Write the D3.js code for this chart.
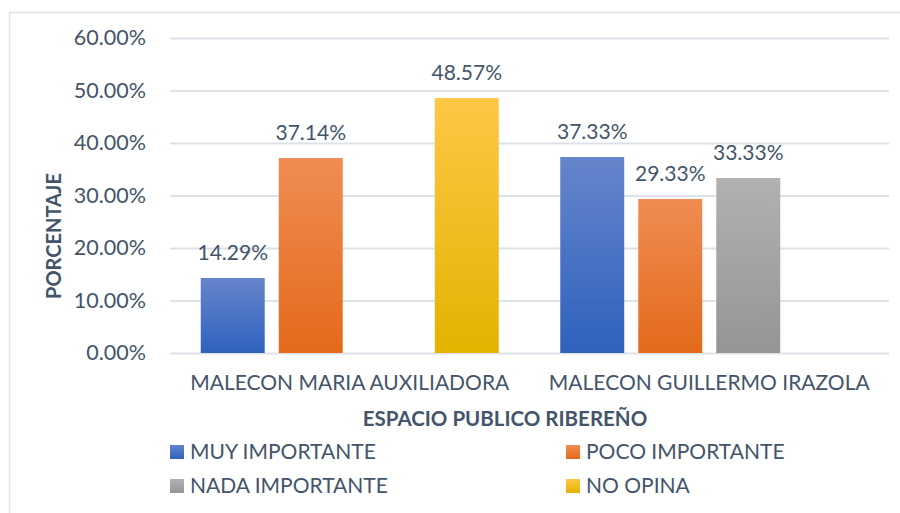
<!DOCTYPE html>
<html>
<head>
<meta charset="utf-8">
<script src="https://cdn.jsdelivr.net/npm/d3@7"></script>
<style>
  html, body { margin: 0; padding: 0; background: #fff; }
  svg { display: block; font-family: Lato, "Open Sans", sans-serif; }
</style>
</head>
<body>
<svg id="chart" width="900" height="513"></svg>
<script>
// Categories, series and values
const categories = ["MALECON MARIA AUXILIADORA", "MALECON GUILLERMO IRAZOLA"];
const seriesNames = ["MUY IMPORTANTE", "POCO IMPORTANTE", "NADA IMPORTANTE", "NO OPINA"];
const muyImportante  = [14.29, 37.33];
const pocoImportante = [37.14, 29.33];
const nadaImportante = [null, 33.33];
const noOpina        = [48.57, null];
const yTicks = [0, 10, 20, 30, 40, 50, 60];
const yTitle = "PORCENTAJE";
const xTitle = "ESPACIO PUBLICO RIBEREÑO";

const seriesValues = [muyImportante, pocoImportante, nadaImportante, noOpina];
// gradient stops per series: lighter at top, deeper at bottom
const seriesColors = [
  ["#6685cc", "#2f61bd"],
  ["#f08c53", "#e36a1a"],
  ["#b1b1b1", "#959595"],
  ["#ffc746", "#e3b300"]
];
const textColor = "#44546a";
const gridColor = "#dde2e8";
const fs = 21;

const svg = d3.select("#chart");
const W = 900, H = 513;

// outer frame
svg.append("rect")
  .attr("x", 9.5).attr("y", 12.5)
  .attr("width", W).attr("height", H)
  .attr("fill", "#fff").attr("stroke", "#dfe3e8").attr("stroke-width", 1.5);

const plot = { left: 170, right: 889, top: 38, bottom: 353 };

const y = d3.scaleLinear().domain([0, 60]).range([plot.bottom, plot.top]);
const x0 = d3.scaleBand().domain(categories).range([plot.left, plot.right]).padding(0);
const groupPad = 30.75;
const x1 = d3.scaleBand().domain(seriesNames)
  .range([groupPad, x0.bandwidth() - groupPad])
  .paddingInner(0.18).paddingOuter(0);

// gradients
const defs = svg.append("defs");
seriesColors.forEach((c, i) => {
  const g = defs.append("linearGradient").attr("id", "grad" + i)
    .attr("x1", 0).attr("y1", 0).attr("x2", 0).attr("y2", 1);
  g.append("stop").attr("offset", "0%").attr("stop-color", c[0]);
  g.append("stop").attr("offset", "100%").attr("stop-color", c[1]);
});

// gridlines + y axis labels
const yAxis = d3.axisLeft(y).tickValues(yTicks)
  .tickSize(-(plot.right - plot.left))
  .tickPadding(24)
  .tickFormat(d => d.toFixed(2) + "%");
const gy = svg.append("g").attr("transform", `translate(${plot.left},0)`).call(yAxis);
gy.select(".domain").remove();
gy.selectAll(".tick line").attr("stroke", gridColor).attr("stroke-width", 2);
gy.selectAll(".tick text")
  .attr("fill", textColor).attr("font-size", 21.5)
  .attr("font-family", "Lato, sans-serif");

// bars
const groups = svg.append("g").selectAll("g")
  .data(categories).join("g")
  .attr("transform", d => `translate(${x0(d)},0)`);

groups.each(function(cat, ci) {
  const g = d3.select(this);
  seriesNames.forEach((s, si) => {
    const v = seriesValues[si][ci];
    if (v == null) return;
    g.append("rect")
      .attr("x", x1(s)).attr("width", x1.bandwidth())
      .attr("y", y(v)).attr("height", y(0) - y(v))
      .attr("fill", `url(#grad${si})`);
    g.append("text")
      .attr("x", x1(s) + x1.bandwidth() / 2)
      .attr("y", y(v) - 18)
      .attr("text-anchor", "middle")
      .attr("fill", textColor).attr("font-size", fs)
      .text(v.toFixed(2) + "%");
  });
});

// x category labels
const xAxis = d3.axisBottom(x0).tickSize(0);
const gx = svg.append("g").attr("transform", `translate(0,${plot.bottom})`).call(xAxis);
gx.select(".domain").remove();
gx.selectAll(".tick text")
  .attr("y", 37).attr("dy", null)
  .attr("fill", textColor).attr("font-size", fs)
  .attr("font-family", "Lato, sans-serif");

// axis titles
svg.append("text")
  .attr("x", 505).attr("y", 426)
  .attr("text-anchor", "middle")
  .attr("fill", textColor).attr("font-size", 20.5).attr("font-weight", "bold")
  .text(xTitle);

svg.append("text")
  .attr("transform", `translate(61,236) rotate(-90)`)
  .attr("text-anchor", "middle")
  .attr("fill", textColor).attr("font-size", 20).attr("font-weight", "bold")
  .text(yTitle);

// legend: two columns, two rows
const legendPos = [[170, 459], [566, 459], [170, 493], [566, 493]];
seriesNames.forEach((s, i) => {
  const [lx, ly] = legendPos[i];
  svg.append("rect")
    .attr("x", lx).attr("y", ly - 14).attr("width", 14).attr("height", 14)
    .attr("fill", `url(#grad${i})`);
  svg.append("text")
    .attr("x", lx + 20).attr("y", ly)
    .attr("fill", textColor).attr("font-size", fs)
    .text(s);
});
</script>
</body>
</html>
